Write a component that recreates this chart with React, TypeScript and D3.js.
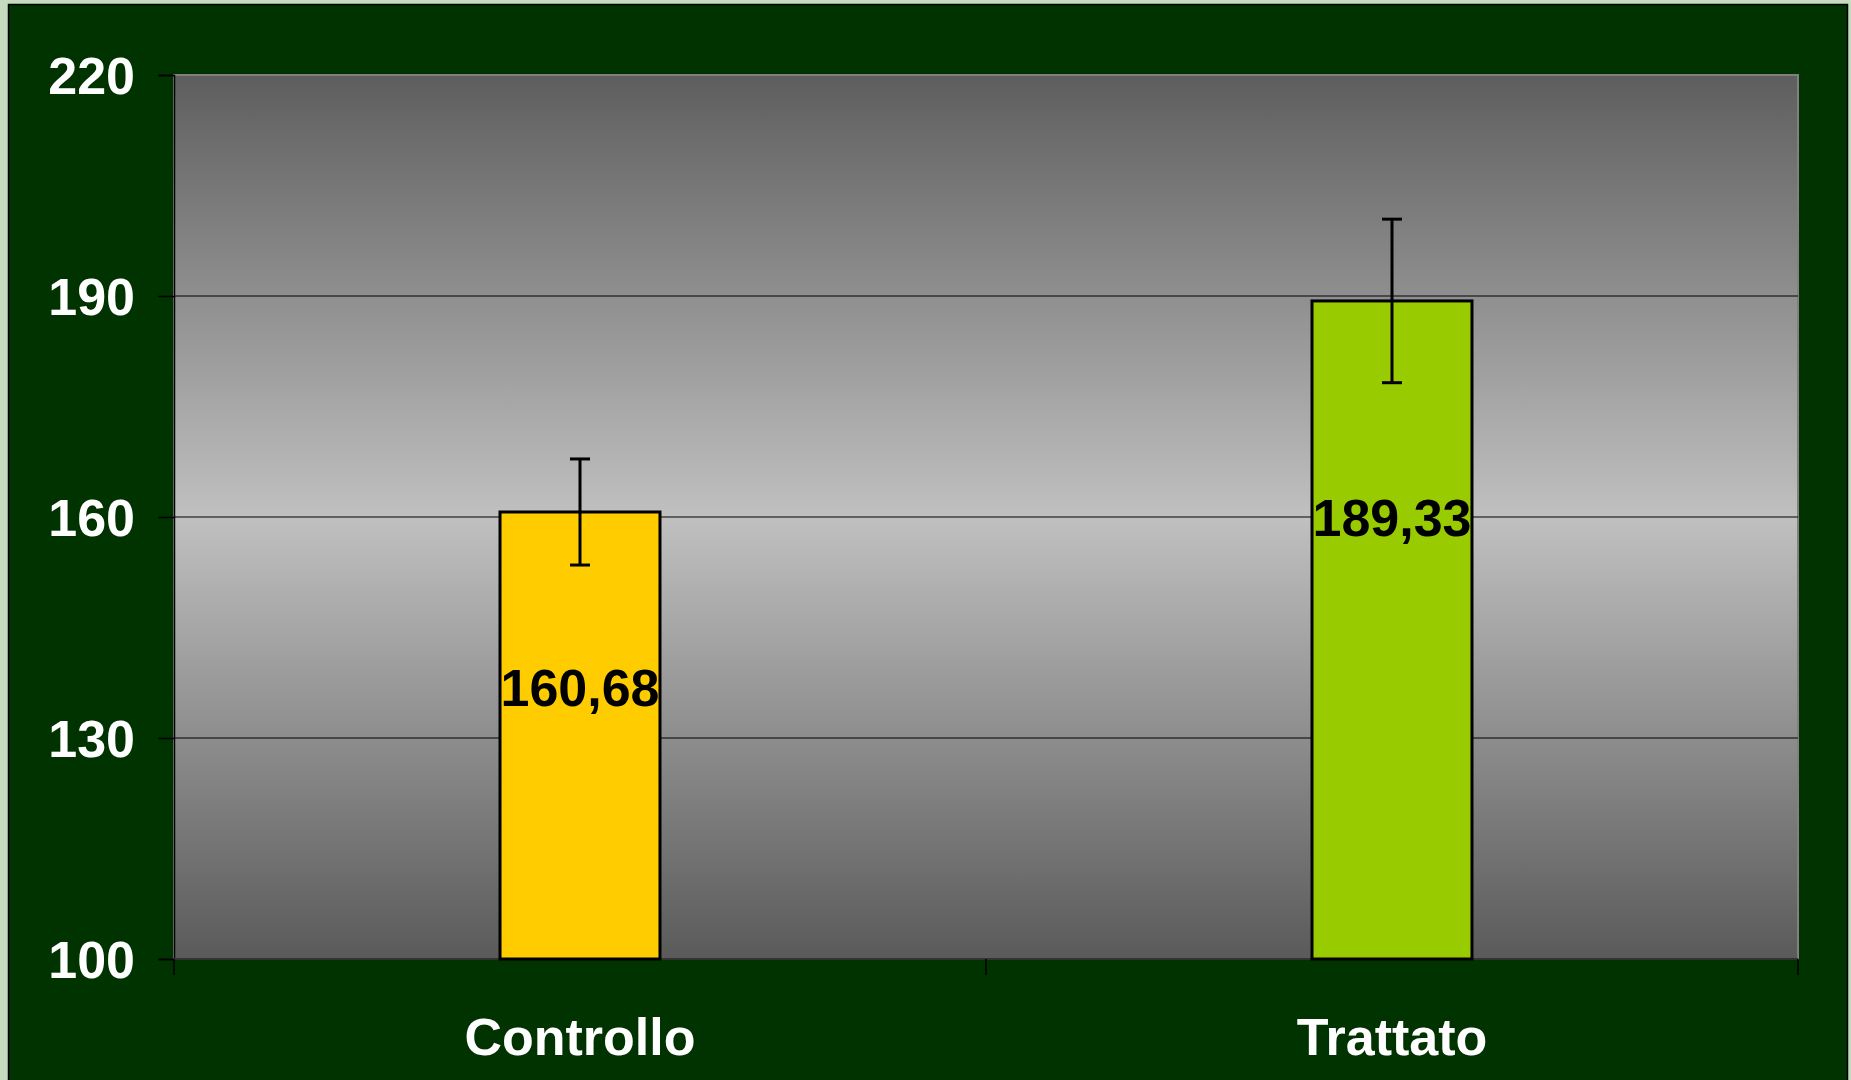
import { useEffect, useRef } from "react";
import * as d3 from "d3";

const categories = ["Controllo", "Trattato"];
const values = [160.68, 189.33];
const errors = [7.2, 11.1];
const valueLabels = ["160,68", "189,33"];
const labelAnchors = [136.9, 159.9];
const barColors = ["#ffcc00", "#99cc00"];
const yTicks = [100, 130, 160, 190, 220];

const width = 1851;
const height = 1080;
const margin = { top: 75, right: 53, bottom: 121, left: 174 };
const fontSize = 52;

const App = () => {
	const svgRef = useRef<SVGSVGElement>(null);

	useEffect(() => {
		if (!svgRef.current) {
			return;
		}
		const svg = d3.select(svgRef.current);
		svg.selectAll("*").remove();

		const innerWidth = width - margin.left - margin.right;
		const innerHeight = height - margin.top - margin.bottom;

		const defs = svg.append("defs");
		const grad = defs
			.append("linearGradient")
			.attr("id", "plotBg")
			.attr("x1", 0)
			.attr("y1", 0)
			.attr("x2", 0)
			.attr("y2", 1);
		grad.append("stop").attr("offset", "0%").attr("stop-color", "#5e5e5e");
		grad.append("stop").attr("offset", "50%").attr("stop-color", "#c0c0c0");
		grad.append("stop").attr("offset", "100%").attr("stop-color", "#5a5a5a");

		// outer frame and dark panel
		svg.append("rect").attr("width", width).attr("height", height).attr("fill", "#c6dcbf");
		svg
			.append("rect")
			.attr("x", 8.5)
			.attr("y", 4.5)
			.attr("width", 1839)
			.attr("height", 1090)
			.attr("fill", "#003300")
			.attr("stroke", "#000")
			.attr("stroke-width", 1.5);

		const content = svg
			.append("g")
			.attr("transform", `translate(${margin.left},${margin.top})`);

		const x = d3
			.scaleBand()
			.domain(categories)
			.range([0, innerWidth])
			.paddingInner(0.803)
			.paddingOuter(0.4015);
		const y = d3.scaleLinear().domain([100, 220]).range([innerHeight, 0]);

		content
			.append("rect")
			.attr("width", innerWidth)
			.attr("height", innerHeight)
			.attr("fill", "url(#plotBg)")
			.attr("stroke", "#808080")
			.attr("stroke-width", 2);

		// gridlines
		content
			.append("g")
			.selectAll("line")
			.data(yTicks.filter((t) => t > 100 && t < 220))
			.join("line")
			.attr("x1", 0)
			.attr("x2", innerWidth)
			.attr("y1", (d) => y(d))
			.attr("y2", (d) => y(d))
			.attr("stroke", "#000")
			.attr("stroke-width", 1);

		// y axis
		const yAxis = content
			.append("g")
			.call(d3.axisLeft(y).tickValues(yTicks).tickSize(16).tickPadding(23).tickFormat((d) => `${d}`));
		yAxis.select(".domain").attr("stroke", "#000").attr("stroke-width", 1.5);
		yAxis.selectAll(".tick line").attr("stroke", "#000").attr("stroke-width", 1.5);
		yAxis
			.selectAll("text")
			.attr("fill", "#fff")
			.attr("font-family", "Liberation Sans, Arial, sans-serif")
			.attr("font-weight", 700)
			.attr("font-size", fontSize)
			.attr("dy", "0.35em");

		// x axis
		const xAxisG = content.append("g").attr("transform", `translate(0,${innerHeight})`);
		xAxisG
			.append("line")
			.attr("x1", 0)
			.attr("x2", innerWidth)
			.attr("stroke", "#333")
			.attr("stroke-width", 2);
		xAxisG
			.selectAll("line.tick")
			.data([0, innerWidth / 2, innerWidth])
			.join("line")
			.attr("class", "tick")
			.attr("x1", (d) => d)
			.attr("x2", (d) => d)
			.attr("y1", 0)
			.attr("y2", 16)
			.attr("stroke", "#000")
			.attr("stroke-width", 1.5);
		xAxisG
			.selectAll("text")
			.data(categories)
			.join("text")
			.attr("x", (d) => (x(d) ?? 0) + x.bandwidth() / 2)
			.attr("y", 96)
			.attr("text-anchor", "middle")
			.attr("fill", "#fff")
			.attr("font-family", "Liberation Sans, Arial, sans-serif")
			.attr("font-weight", 700)
			.attr("font-size", fontSize)
			.text((d) => d);

		// bars
		content
			.append("g")
			.selectAll("rect")
			.data(categories)
			.join("rect")
			.attr("x", (d) => x(d) ?? 0)
			.attr("y", (_, i) => y(values[i]))
			.attr("width", x.bandwidth())
			.attr("height", (_, i) => y(100) - y(values[i]))
			.attr("fill", (_, i) => barColors[i])
			.attr("stroke", "#000")
			.attr("stroke-width", 3);

		// error bars
		const errG = content
			.append("g")
			.selectAll("g")
			.data(categories)
			.join("g")
			.attr("transform", (d) => `translate(${(x(d) ?? 0) + x.bandwidth() / 2},0)`);
		errG
			.append("line")
			.attr("y1", (_, i) => y(values[i] + errors[i]))
			.attr("y2", (_, i) => y(values[i] - errors[i]))
			.attr("stroke", "#000")
			.attr("stroke-width", 3);
		errG
			.selectAll("line.cap")
			.data((_, i) => [values[i] + errors[i], values[i] - errors[i]])
			.join("line")
			.attr("class", "cap")
			.attr("x1", -10)
			.attr("x2", 10)
			.attr("y1", (d) => y(d))
			.attr("y2", (d) => y(d))
			.attr("stroke", "#000")
			.attr("stroke-width", 3);

		// value labels
		content
			.append("g")
			.selectAll("text")
			.data(categories)
			.join("text")
			.attr("x", (d) => (x(d) ?? 0) + x.bandwidth() / 2)
			.attr("y", (_, i) => y(labelAnchors[i]))
			.attr("dy", "0.36em")
			.attr("text-anchor", "middle")
			.attr("fill", "#000")
			.attr("font-family", "Liberation Sans, Arial, sans-serif")
			.attr("font-weight", 700)
			.attr("font-size", fontSize)
			.text((_, i) => valueLabels[i]);
	}, []);

	return (
		<svg
			ref={svgRef}
			width={width}
			height={height}
			style={{ position: "absolute", left: 0, top: 0, display: "block" }}
		/>
	);
};

export default App;
